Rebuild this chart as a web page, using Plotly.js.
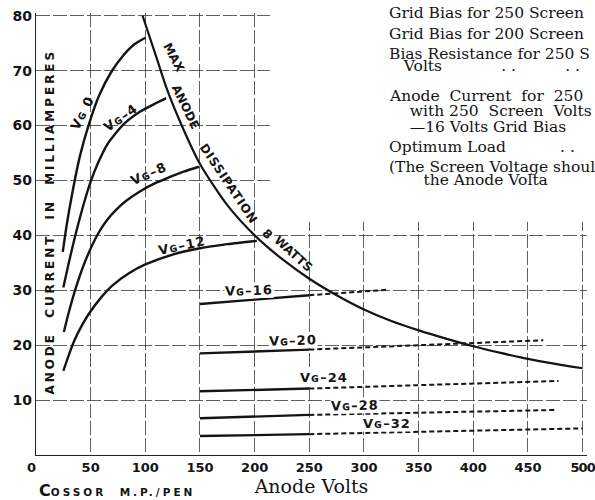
<!DOCTYPE html>
<html>
<head>
<meta charset="utf-8">
<script src="https://cdn.plot.ly/plotly-3.0.1.min.js"></script>
<style>html,body{margin:0;padding:0;background:#fff;}#chart{width:595px;height:500px;}</style>
</head>
<body>
<div id="chart"></div>
<script>
// ---- tick values ----
const xTicks = [0, 50, 100, 150, 200, 250, 300, 350, 400, 450, 500];
const xTickText = ['0\u00a0\u00a0', '50', '100', '150', '200', '250', '300', '350', '400', '450',
                   '<span style="letter-spacing:-1px">500</span>'];
const yTicks = [10, 20, 30, 40, 50, 60, 70, 80];

// ---- characteristic curves (anode volts, anode mA) ----
const vg0V  = [24.5, 28, 33, 40, 48, 58, 69, 80, 90, 100];
const vg0I  = [37, 41.8, 47.5, 54.3, 60, 65.6, 69.8, 72.8, 74.8, 76];

const vg4V  = [25, 30, 37, 44.5, 50, 57, 65, 80, 95, 110, 119];
const vg4I  = [30.5, 35, 40.8, 46.3, 49.8, 53.3, 56.5, 60.2, 62.5, 64.1, 65];

const vg8V  = [25.5, 30, 37, 45, 56.5, 65, 73, 82.5, 95, 110, 122, 135, 149];
const vg8I  = [22.4, 26, 30.8, 35.3, 40.2, 42.8, 44.6, 46.3, 48, 49.6, 50.6, 51.6, 52.5];

const vg12V = [25, 30, 35, 42, 49, 60, 70, 85, 100, 125, 149, 175, 202];
const vg12I = [15.3, 18.2, 20.8, 23.6, 25.9, 28.8, 30.9, 33.1, 34.7, 36.5, 37.6, 38.4, 39];

// solid (measured) and dashed (extrapolated) parts
const vg16SolidV = [150, 200, 250];      const vg16SolidI = [27.5, 28.3, 29.1];
const vg16DashV  = [250, 290, 322];      const vg16DashI  = [29.1, 29.6, 30.1];
const vg20SolidV = [150, 250];           const vg20SolidI = [18.5, 19.2];
const vg20DashV  = [250, 375, 464];      const vg20DashI  = [19.2, 20.2, 20.9];
const vg24SolidV = [150, 250];           const vg24SolidI = [11.6, 12.1];
const vg24DashV  = [250, 478];           const vg24DashI  = [12.1, 13.5];
const vg28SolidV = [150, 250];           const vg28SolidI = [6.7, 7.3];
const vg28DashV  = [250, 475];           const vg28DashI  = [7.3, 8.2];
const vg32SolidV = [150, 250];           const vg32SolidI = [3.45, 3.8];
const vg32DashV  = [250, 500];           const vg32DashI  = [3.8, 4.85];

// max anode dissipation (8 watts) curve
const dissV = [97.5, 110, 120, 134, 150, 175, 200, 225, 250, 275, 300, 325, 350, 375, 400, 425, 450, 475, 500];
const dissI = [80, 72.5, 66.5, 59.7, 53, 45.5, 40, 35.7, 32.1, 29.1, 26.5, 24.4, 22.7, 21.2, 19.8, 18.6, 17.5, 16.6, 15.8];

const INK = '#141414';
function solid(x, y, w) {
  return {type: 'scatter', mode: 'lines', x: x, y: y, hoverinfo: 'skip',
    line: {color: INK, width: w || 2.4, shape: 'spline', smoothing: 0.7}};
}
function dashed(x, y) {
  return {type: 'scatter', mode: 'lines', x: x, y: y, hoverinfo: 'skip',
    line: {color: INK, width: 2, dash: '5px,3px'}};
}

const data = [
  solid(vg0V, vg0I), solid(vg4V, vg4I), solid(vg8V, vg8I), solid(vg12V, vg12I),
  solid(vg16SolidV, vg16SolidI), dashed(vg16DashV, vg16DashI),
  solid(vg20SolidV, vg20SolidI), dashed(vg20DashV, vg20DashI),
  solid(vg24SolidV, vg24SolidI), dashed(vg24DashV, vg24DashI),
  solid(vg28SolidV, vg28SolidI), dashed(vg28DashV, vg28DashI),
  solid(vg32SolidV, vg32SolidI), dashed(vg32DashV, vg32DashI),
  solid(dissV, dissI, 2.2)
];

const X_END = 504;            // right end of the anode-volts axis range
const PLOT_W = 551, PLOT_H = 442, Y_END = 80.5;
const SANS = 'DejaVu Sans';
const SERIF = 'DejaVu Serif';
function lbl(text, x, y, ang, bg, size) {
  return {text: text, x: x, y: y, xref: 'x', yref: 'y', showarrow: false,
    textangle: ang, font: {family: SANS, size: size || 13, weight: 'bold', color: INK},
    bgcolor: bg ? '#fff' : 'rgba(0,0,0,0)', borderpad: 0};
}
const NB = '\u00a0';
function nb(n) { return NB.repeat(n); }
const BIG = '<span style="font-size:15.5px">';
// a block of serif text; baseSize sets the (tight) line spacing, glyphs are drawn at 15.5px
function txt(lines, px, py, baseSize) {
  return {text: lines.map(function (l) { return BIG + l + '</span>'; }).join('<br>'),
    x: (px - 36) / PLOT_W, y: (455 - py) / PLOT_H, xref: 'paper', yref: 'paper',
    xanchor: 'left', yanchor: 'middle', align: 'left', showarrow: false, borderpad: 0,
    font: {family: SERIF, size: baseSize || 15.5, color: INK}};
}
const SP = '<span style="letter-spacing:1px">';

const annotations = [
  lbl(SP + 'V\u0262 0</span>', 42.5, 62.4, -63),
  lbl(SP + 'V\u0262\u20134</span>', 77.9, 61.4, -35),
  lbl(SP + 'V\u0262\u20138</span>', 103.6, 51.2, -24),
  lbl(SP + 'V\u0262\u201312</span>', 133.9, 38.2, -12),
  lbl(SP + 'V\u0262\u201316</span>', 195.2, 29.9, -2, true),
  lbl(SP + 'V\u0262\u201320</span>', 235.5, 20.8, -2, true),
  lbl(SP + 'V\u0262\u201324</span>', 263.6, 14.1, 0, true),
  lbl(SP + 'V\u0262\u201328</span>', 291.5, 9.0, -1, true),
  lbl(SP + 'V\u0262\u201332</span>', 321.2, 5.8, 0, true),
  lbl('MAX', 125.5, 72.4, 62, false, 12),
  lbl('ANODE', 136.5, 63.3, 64, false, 12),
  lbl('<span style="letter-spacing:0.8px">DISSIPATION</span>', 176.5, 49.4, 56, false, 12),
  lbl('8', 211.5, 40.2, 45, false, 12),
  lbl('WATTS', 235.5, 36.6, 42, false, 12),
  // y axis title (drawn inside the plot as in the original)
  {text: '<span style="letter-spacing:2.95px">ANODE' + NB + ' CURRENT' + NB + ' IN' + NB + ' MILLIAMPERES</span>',
   x: 12.7, y: 42.5, xref: 'x', yref: 'y', showarrow: false, textangle: -90,
   font: {family: SANS, size: 12, weight: 'bold', color: INK}},
  // maker / valve name
  {text: '<span style="font-size:16px">C</span><span style="letter-spacing:3px">OSSOR' + NB + ' M.P./PEN</span>',
   x: (37 - 36) / PLOT_W, y: (455 - 491) / PLOT_H, xref: 'paper', yref: 'paper', xanchor: 'left', yanchor: 'middle',
   showarrow: false, font: {family: SANS, size: 10.5, weight: 'bold', color: INK}},
  // data table text block (top right)
  txt(['Grid Bias for 250 Screen'], 388, 13),
  txt(['Grid Bias for 200 Screen'], 388, 34),
  txt(['Bias Resistance for 250 S', nb(3) + 'Volts' + nb(12) + '. .' + nb(10) + '. .'], 388, 60, 9.3),
  txt(['Anode' + NB + ' Current' + NB + ' for' + NB + ' 250',
       nb(4) + 'with 250' + NB + ' Screen' + NB + ' Volts',
       nb(4) + '\u201416 Volts Grid Bias'], 388, 112, 11.8),
  txt(['Optimum Load' + nb(11) + '. .'], 388, 147),
  txt(['(The Screen Voltage shoul', nb(7) + 'the Anode Volta'], 388, 173, 10)
];

const gridStyle = {showgrid: true, gridcolor: '#3a3a3a', gridwidth: 0.8, griddash: '14px,3px',
  zeroline: false, showline: true, linecolor: '#222', linewidth: 1.2, ticks: '',
  ticklabeloverflow: 'allow'};

const layout = {
  width: 595, height: 500,
  margin: {l: 36, r: 8, t: 13, b: 45},
  paper_bgcolor: '#fff', plot_bgcolor: '#fff',
  showlegend: false,
  font: {family: SANS, color: INK},
  xaxis: Object.assign({}, gridStyle, {range: [0, X_END], tickvals: xTicks, ticktext: xTickText,
    tickfont: {family: SANS, size: 13, weight: 'bold', color: INK},
    title: {text: 'Anode Volts', font: {family: SERIF, size: 19, color: INK}, standoff: 6}}),
  yaxis: Object.assign({}, gridStyle, {range: [0, Y_END], tickvals: yTicks, ticktext: yTicks.map(String),
    tickfont: {family: SANS, size: 14, weight: 'bold', color: INK}}),
  shapes: [
    // blank area of the grid behind the table text
    {type: 'rect', xref: 'x', yref: 'y', x0: 214, x1: 520, y0: 42.5, y1: 90,
     fillcolor: '#fff', line: {width: 0}, layer: 'between'}
  ],
  annotations: annotations
};

Plotly.newPlot('chart', data, layout, {staticPlot: true, displayModeBar: false});
</script>
</body>
</html>
